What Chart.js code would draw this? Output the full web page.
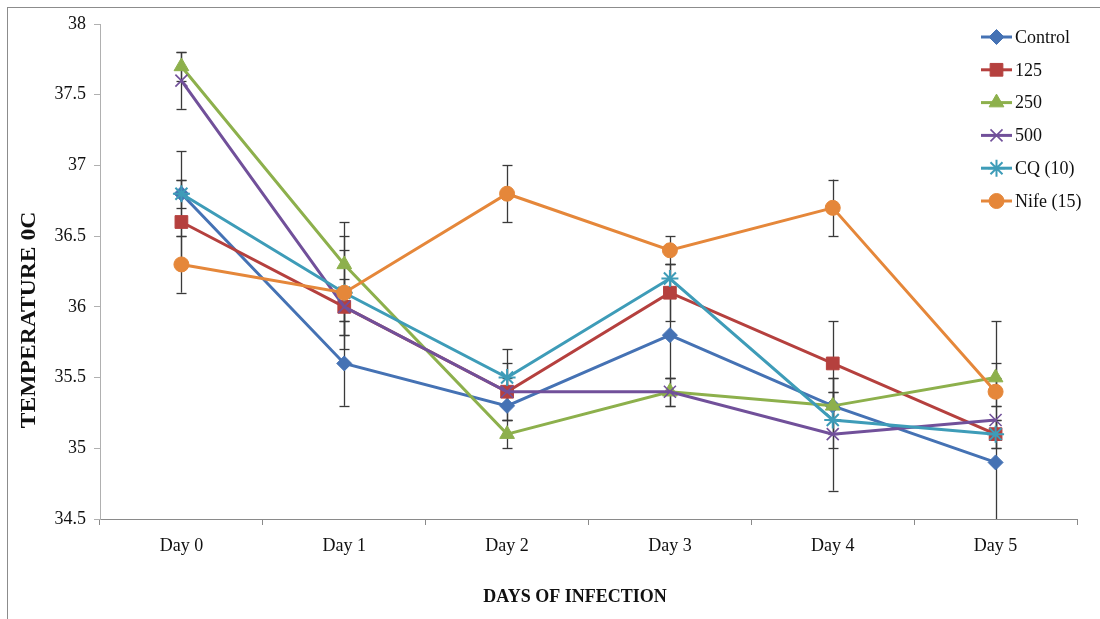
<!DOCTYPE html>
<html>
<head>
<meta charset="utf-8">
<script src="https://cdn.jsdelivr.net/npm/chart.js@4.4.1/dist/chart.umd.min.js"></script>
<style>
  html, body { margin: 0; padding: 0; background: #ffffff; }
  #wrap { width: 1100px; height: 619px; position: relative; }
</style>
</head>
<body>
<div id="wrap"><canvas id="chart" width="1100" height="619"></canvas></div>
<script>
// Day labels along the x axis
const days = ['Day 0', 'Day 1', 'Day 2', 'Day 3', 'Day 4', 'Day 5'];

// Mean body temperature per group (°C)
const control = [36.8, 35.6, 35.3, 35.8, 35.3, 34.9];
const dose125 = [36.6, 36.0, 35.4, 36.1, 35.6, 35.1];
const dose250 = [37.7, 36.3, 35.1, 35.4, 35.3, 35.5];
const dose500 = [37.6, 36.0, 35.4, 35.4, 35.1, 35.2];
const cq10    = [36.8, 36.1, 35.5, 36.2, 35.2, 35.1];
const nife15  = [36.3, 36.1, 36.8, 36.4, 36.7, 35.4];

// Error (±) for each group and day
const controlErr = [0.1, 0.3, 0.1, 0.3, 0.2, 1.0];
const dose125Err = [0.3, 0.2, 0.2, 0.2, 0.3, 0.1];
const dose250Err = [0.1, 0.3, 0.1, 0.1, 0.1, 0.1];
const dose500Err = [0.2, 0.1, 0.1, 0.1, 0.4, 0.1];
const cq10Err    = [0.3, 0.3, 0.2, 0.1, 0.2, 0.1];
const nife15Err  = [0.2, 0.4, 0.2, 0.1, 0.2, 0.1];

// Y axis range and step
const yMin = 34.5, yMax = 38, yStep = 0.5;

const seriesNames = ['Control', '125', '250', '500', 'CQ (10)', 'Nife (15)'];
const FONT = '"Liberation Serif", "Times New Roman", serif';

function series(label, data, err, color, style, radius, order, bw) {
  return {
    label, data, err,
    borderColor: color,
    backgroundColor: color,
    pointBackgroundColor: color,
    pointBorderColor: color,
    pointStyle: style,
    pointRadius: radius,
    pointHoverRadius: radius,
    pointBorderWidth: bw,
    borderWidth: 3,
    tension: 0,
    fill: false,
    order
  };
}

const datasets = [
  series(seriesNames[0], control, controlErr, '#4572B4', 'rectRot', 7.5, 5, 1),
  series(seriesNames[1], dose125, dose125Err, '#B5403E', 'rect', 9, 4, 1),
  series(seriesNames[2], dose250, dose250Err, '#8DB04C', 'triangle', 8.5, 3, 1),
  series(seriesNames[3], dose500, dose500Err, '#71509A', 'crossRot', 8.5, 2, 1.6),
  series(seriesNames[4], cq10, cq10Err, '#3E9CB8', 'star', 8.5, 1, 2),
  series(seriesNames[5], nife15, nife15Err, '#E5873A', 'circle', 7.5, 0, 1)
];

// Vertical error bars with caps, drawn beneath the lines
const errorBars = {
  id: 'errorBars',
  beforeDatasetsDraw(chart) {
    const { ctx, chartArea, scales } = chart;
    const xs = scales.x, ys = scales.y;
    ctx.save();
    ctx.beginPath();
    ctx.rect(chartArea.left, chartArea.top - 2, chartArea.right - chartArea.left, chartArea.bottom - chartArea.top + 2);
    ctx.clip();
    ctx.strokeStyle = '#3a3a3a';
    ctx.lineWidth = 1.3;
    chart.data.datasets.forEach(ds => {
      ds.data.forEach((v, i) => {
        const e = ds.err[i];
        if (!e) return;
        const x = Math.round(xs.getPixelForValue(i)) + 0.5;
        const hiV = v + e, loV = v - e;
        const yHi = ys.getPixelForValue(hiV);
        const yLo = ys.getPixelForValue(loV);
        ctx.beginPath();
        ctx.moveTo(x, yHi);
        ctx.lineTo(x, yLo);
        ctx.stroke();
        [[hiV, yHi], [loV, yLo]].forEach(([val, y]) => {
          if (val < yMin || val > yMax) return;
          ctx.beginPath();
          ctx.moveTo(x - 5, Math.round(y) + 0.5);
          ctx.lineTo(x + 5, Math.round(y) + 0.5);
          ctx.stroke();
        });
      });
    });
    ctx.restore();
  }
};

// Frame, axis titles and the line-with-marker legend
const decorations = {
  id: 'decorations',
  afterDraw(chart) {
    const { ctx } = chart;
    ctx.save();
    // outer frame
    ctx.strokeStyle = '#8c8c8c';
    ctx.lineWidth = 1;
    ctx.strokeRect(7.5, 7.5, 1200, 800);

    // y axis title
    ctx.fillStyle = '#111';
    ctx.font = 'bold 20px ' + FONT;
    ctx.textAlign = 'center';
    ctx.textBaseline = 'middle';
    ctx.save();
    ctx.translate(30, 320);
    ctx.rotate(-Math.PI / 2);
    ctx.scale(1.18, 1);
    ctx.fillText('TEMPERATURE 0C', 0, 0);
    ctx.restore();

    // x axis title
    ctx.font = 'bold 18px ' + FONT;
    ctx.fillText('DAYS OF INFECTION', 575, 597);

    // legend
    const lx0 = 981, lx1 = 1012, ly0 = 37, dy = 32.8;
    chart.data.datasets.forEach((ds, i) => {
      const y = ly0 + i * dy;
      ctx.strokeStyle = ds.borderColor;
      ctx.lineWidth = 3;
      ctx.beginPath();
      ctx.moveTo(lx0, y);
      ctx.lineTo(lx1, y);
      ctx.stroke();
      ctx.fillStyle = ds.pointBackgroundColor;
      ctx.strokeStyle = ds.pointBorderColor;
      ctx.lineWidth = ds.pointBorderWidth;
      if (Chart.helpers && Chart.helpers.drawPoint) {
        Chart.helpers.drawPoint(ctx, {
          pointStyle: ds.pointStyle,
          radius: ds.pointRadius,
          rotation: 0,
          borderWidth: ds.pointBorderWidth
        }, (lx0 + lx1) / 2, y);
      }
      ctx.fillStyle = '#111';
      ctx.font = '18px ' + FONT;
      ctx.textAlign = 'left';
      ctx.textBaseline = 'middle';
      ctx.fillText(ds.label, 1015, y + 1);
    });
    ctx.restore();
  }
};

new Chart(document.getElementById('chart'), {
  type: 'line',
  data: { labels: days, datasets },
  plugins: [errorBars, decorations],
  options: {
    responsive: false,
    animation: false,
    layout: { padding: { top: 24, right: 23, left: 0, bottom: 0 } },
    plugins: {
      legend: { display: false },
      tooltip: { enabled: false },
      title: { display: false }
    },
    scales: {
      x: {
        type: 'category',
        offset: true,
        grid: {
          offset: true,
          drawOnChartArea: false,
          drawTicks: true,
          tickLength: 6,
          color: '#8a8a8a'
        },
        border: { color: '#8a8a8a', width: 1 },
        ticks: {
          color: '#111',
          font: { family: FONT, size: 18 },
          padding: 10,
          maxRotation: 0
        },
        afterFit(scale) { scale.height = 100; }
      },
      y: {
        min: yMin,
        max: yMax,
        grid: {
          drawOnChartArea: false,
          drawTicks: true,
          tickLength: 6,
          color: '#b0b0b0'
        },
        border: { color: '#b0b0b0', width: 1 },
        ticks: {
          stepSize: yStep,
          color: '#111',
          font: { family: FONT, size: 18 },
          padding: 8,
          callback: (v) => String(Number(Number(v).toFixed(1)))
        },
        afterFit(scale) { scale.width = 100; }
      }
    }
  }
});
</script>
</body>
</html>
